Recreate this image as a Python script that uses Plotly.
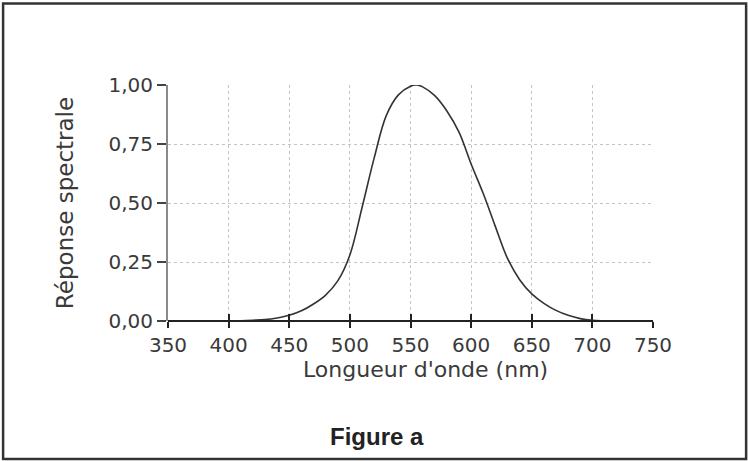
import plotly.graph_objects as go

# Data
wavelength_nm = [380, 390, 400, 410, 420, 430, 440, 450, 460, 470, 480, 490, 500,
                 510, 520, 530, 540, 550, 555, 560, 570, 580, 590, 600, 610, 620,
                 630, 640, 650, 660, 670, 680, 690, 700, 710, 720]
spectral_response = [0.000, 0.000, 0.0005, 0.001, 0.003, 0.006, 0.013, 0.024, 0.043,
                     0.072, 0.110, 0.170, 0.280, 0.480, 0.690, 0.870, 0.958, 0.995,
                     1.000, 0.992, 0.955, 0.890, 0.800, 0.665, 0.540, 0.400, 0.265,
                     0.175, 0.115, 0.075, 0.045, 0.024, 0.010, 0.003, 0.001, 0.000]
x_ticks = [350, 400, 450, 500, 550, 600, 650, 700, 750]
y_ticks = [0.00, 0.25, 0.50, 0.75, 1.00]

tick_font = dict(family="DejaVu Sans", size=20, color="#3a3a3a")
title_font = dict(family="DejaVu Sans", size=22, color="#3a3a3a")

fig = go.Figure()
fig.add_trace(go.Scatter(x=wavelength_nm, y=spectral_response, mode="lines",
                         line=dict(color="#333333", width=1.6, shape="spline",
                                   smoothing=1.0),
                         showlegend=False, hoverinfo="skip"))

fig.update_layout(
    width=748, height=461,
    margin=dict(l=168, r=95, t=85, b=140),
    paper_bgcolor="white", plot_bgcolor="white",
    separators=", ",
    xaxis=dict(range=[350, 750], tickvals=x_ticks, ticks="outside", ticklen=6,
               tickcolor="#222", tickwidth=1.5,
               showline=False, zeroline=False,
               showgrid=True, gridcolor="#c4c4c4", griddash="dot", gridwidth=1,
               tickfont=tick_font),
    xaxis2=dict(range=[350, 750], tickvals=x_ticks, ticks="inside", ticklen=7,
                tickcolor="#222", tickwidth=1.5, overlaying="x", matches="x",
                showticklabels=False, showgrid=False, zeroline=False, showline=False),
    yaxis=dict(range=[0, 1], tickvals=y_ticks, tickformat=".2f", ticks="outside",
               ticklen=9, tickcolor="#444", tickwidth=1.5,
               showline=True, linecolor="#8a8a8a", linewidth=2,
               zeroline=False,
               showgrid=True, gridcolor="#c4c4c4", griddash="dot", gridwidth=1,
               tickfont=tick_font,
               title=dict(text="Réponse spectrale", font=dict(family="DejaVu Sans", size=23, color="#3a3a3a"),
                          standoff=28)),
    shapes=[
        # x axis line at y = 0
        dict(type="line", xref="paper", yref="paper", x0=0, x1=1, y0=0, y1=0,
             line=dict(color="#222", width=2), layer="above"),
        # outer frame of the figure
        dict(type="rect", xref="paper", yref="paper",
             x0=-0.340, x1=1.192, y0=-0.585, y1=1.345,
             line=dict(color="#333", width=2.5)),
    ],
    annotations=[
        dict(text="Longueur d'onde (nm)", xref="paper", yref="paper",
             x=0.531, y=-0.205, xanchor="center", yanchor="middle",
             showarrow=False, font=title_font),
        dict(text="<b>Figure a</b>", xref="paper", yref="paper",
             x=0.43, y=-0.49, xanchor="center", yanchor="middle",
             showarrow=False,
             font=dict(family="Liberation Sans", size=24, color="#222")),
    ],
)
# invisible trace for the overlaid axis so the inside ticks render
fig.add_trace(go.Scatter(x=[350], y=[0], xaxis="x2", mode="markers",
                         marker=dict(opacity=0), showlegend=False, hoverinfo="skip"))

fig.write_html("out.html", config={"displayModeBar": False},
               post_script="document.body.style.margin='0';")
